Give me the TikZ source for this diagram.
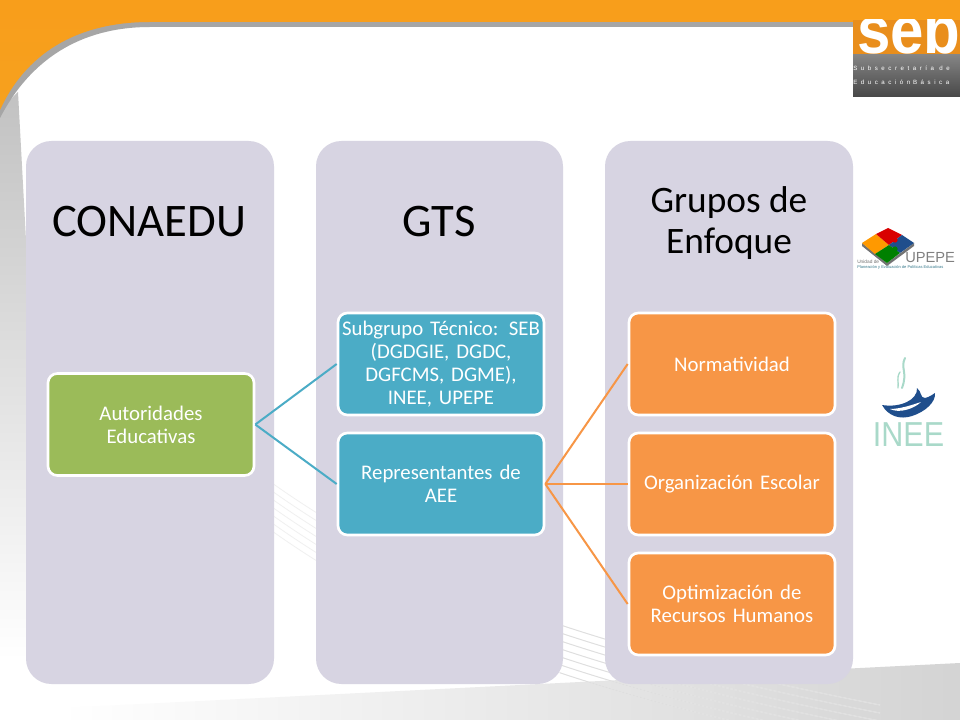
\documentclass[tikz,border=0pt]{standalone}
\usepackage{fontspec}
\setmainfont{Carlito}
\newfontfamily\logofont{Liberation Sans}
\newfontfamily\logospaced[LetterSpace=58]{Liberation Sans}
\definecolor{panelc}{HTML}{D7D4E2}
\definecolor{greenc}{HTML}{9BBB59}
\definecolor{bluec}{HTML}{4BACC6}
\definecolor{orangec}{HTML}{F79646}
\definecolor{bandc}{HTML}{F7A11E}
\definecolor{sebc}{HTML}{E98E1C}
\definecolor{teale}{HTML}{A9D9C9}
\definecolor{navyc}{HTML}{1F4E8C}
\tikzset{
  x=0.75pt,y=-0.75pt,
  panel/.style={fill=panelc,rounded corners=19pt},
  ttl/.style={text=black,align=center,font=\fontsize{35pt}{40pt}\selectfont,inner sep=0pt},
  ttlb/.style={text=black,align=center,font=\fontsize{28pt}{31pt}\selectfont,inner sep=0pt},
  card/.style={draw=white,line width=2pt,rounded corners=7pt,minimum width=154.5pt,minimum height=76.5pt,text width=150pt,align=center,inner sep=0pt,text=white,font=\fontsize{15.6pt}{17.4pt}\selectfont},
  gcard/.style={card,fill=greenc},
  bcard/.style={card,fill=bluec},
  ocard/.style={card,fill=orangec},
  blink/.style={draw=bluec,line width=1.5pt},
  olink/.style={draw=orangec,line width=1.5pt},
  stripe/.style={draw=black!6,line width=0.6pt},
  stripeb/.style={draw=black!13,line width=0.6pt},
}
\begin{document}
\begin{tikzpicture}
\useasboundingbox (0,0) rectangle (960,720);
\fill[white] (0,0) rectangle (960,720);
% left grey strip
\shade[top color=black!24,bottom color=white] (0,110) -- (18,92) -- (26,240) -- (26,660) -- (0,660) -- cycle;
% bottom wedge
\shade[left color=white,right color=black!17] (60,708) -- (960,663) -- (960,720) -- (60,720) -- cycle;
% diagonal stripes
\foreach \d in {0,8,...,48}{
  \draw[stripe] (265,478+\d) .. controls (420,590+\d) and (600,650+\d) .. (880,705+\d);
}
\begin{scope}
\clip (560,600) rectangle (960,720);
\foreach \d in {0,8,...,48}{
  \draw[stripeb] (265,478+\d) .. controls (420,590+\d) and (600,650+\d) .. (880,705+\d);
}
\end{scope}
% orange band
\fill[black!35] (0,118) .. controls (30,60) and (80,27) .. (150,27) -- (960,27) -- (960,20) -- (0,20) -- cycle;
\shade[top color=bandc!90!orange,bottom color=bandc] (0,0) -- (960,0) -- (960,22) -- (150,22) .. controls (75,22) and (25,55) .. (0,110) -- cycle;
% panels
\fill[panel] (26,141) rectangle (274,684);
\fill[panel] (316,141) rectangle (563,684);
\fill[panel] (605,141) rectangle (853,684);
\node[ttl] (t1) at (149,222) {CONAEDU};
\node[ttl] (t2) at (439,222) {GTS};
\node[ttlb] (t3) at (729,223) {Grupos de\\Enfoque};
% cards
\node[gcard] (a) at (151,424.5) {Autoridades\\Educativas};
\node[bcard] (b1) at (441,364) {Subgrupo Técnico: SEB\\(DGDGIE, DGDC,\\DGFCMS, DGME),\\INEE, UPEPE};
\node[bcard] (b2) at (441,484) {Representantes de\\AEE};
\node[ocard] (c1) at (732,364) {Normatividad};
\node[ocard] (c2) at (732,484) {Organización Escolar};
\node[ocard] (c3) at (732,604) {Optimización de\\Recursos Humanos};
\draw[blink] (a.east) -- (b1.west);
\draw[blink] (a.east) -- (b2.west);
\draw[olink] (b2.east) -- (c1.west);
\draw[olink] (b2.east) -- (c2.west);
\draw[olink] (b2.east) -- (c3.west);
% SEB logo
\begin{scope}
\clip (853,20) rectangle (960,55);
\fill[sebc] (853,20) rectangle (960,55);
\node[text=white,inner sep=0pt,font=\logofont\bfseries\fontsize{50pt}{50pt}\selectfont,anchor=base west,xscale=0.9] (seb) at (857,54) {seb};
\end{scope}
\shade[top color=black!48,bottom color=black!72] (853,55) rectangle (960,97);
\node[text=white,font=\logospaced\fontsize{4.6pt}{5pt}\selectfont,anchor=west,inner sep=0pt] (s1) at (853,68) {Subsecretaría\hspace{4pt}de};
\node[text=white,font=\logospaced\fontsize{4.6pt}{5pt}\selectfont,anchor=west,inner sep=0pt] (s2) at (853,82) {Educación\hspace{2pt}Básica};
% UPEPE logo
\fill[black!55] (862,243) -- (887,263) -- (914,243) -- (914,246) -- (887,266) -- (862,246) -- cycle;
\fill[orange!80!yellow] (862,243) -- (876,234) -- (889,245) -- (875,254) -- cycle;
\fill[red!85!black] (876,234) -- (888,228) -- (902,235) -- (889,245) -- cycle;
\fill[navyc] (902,235) -- (914,243) -- (900,253) -- (889,245) -- cycle;
\fill[green!50!black] (875,254) -- (889,245) -- (900,253) -- (887,263) -- cycle;
\fill[orange!80!yellow] (881,247) circle (2.6);
\fill[red!85!black] (895,240) circle (2.6);
\fill[green!50!black] (895,249) circle (2.6);
\node[text=black!50,font=\logofont\fontsize{11pt}{12pt}\selectfont,anchor=west,inner sep=0pt] (up) at (905,258) {UPEPE};
\node[text=black!55,font=\logofont\fontsize{3.6pt}{4pt}\selectfont,anchor=west,inner sep=0pt] (ud) at (857,262) {Unidad de};
\node[text=bluec!70!black,font=\logofont\fontsize{3pt}{3pt}\selectfont,anchor=west,inner sep=0pt] (pl) at (857,267.5) {Planeación y Evaluación de Políticas Educativas};
% INEE logo
\draw[teale,line width=1.5pt,line cap=round] (905,358) .. controls (900,368) and (908,372) .. (902,388);
\draw[teale,line width=1pt,line cap=round] (900,372) .. controls (896,378) and (899,382) .. (898,388);
\fill[navyc] (882,405) .. controls (900,408) and (918,400) .. (917,388) .. controls (922,392) and (920,398) .. (925,398) .. controls (930,397) and (933,394) .. (935,393) .. controls (936,402) and (925,412) .. (912,416) .. controls (900,420) and (888,416) .. (882,405) -- cycle;
\fill[white] (890,409) .. controls (900,409) and (912,405) .. (921,402) .. controls (915,408) and (900,414) .. (890,409) -- cycle;
\node[text=teale,font=\logofont\fontsize{26pt}{26pt}\selectfont,inner sep=0pt,xscale=0.88] (inee) at (908.5,435) {INEE};
\end{tikzpicture}
\end{document}
